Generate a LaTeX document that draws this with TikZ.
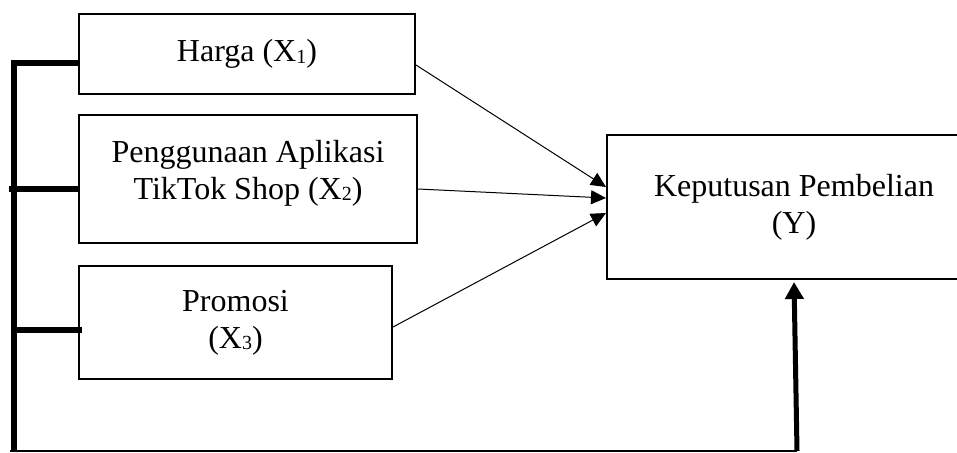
\documentclass[tikz,border=0pt]{standalone}
\usepackage{fontspec}
\setmainfont{Liberation Serif}
\usetikzlibrary{arrows.meta}
\newcommand\xsub[1]{\raisebox{-1.5pt}{\fontsize{20}{20}\selectfont #1}}
\tikzset{
  box/.style={draw, line width=2pt, rectangle, inner sep=0pt, align=center,
    font=\fontsize{32}{36.8}\selectfont},
  thin/.style={line width=1pt, -{Triangle[length=15pt,width=14pt]}},
  thick/.style={line width=6pt},
  bigarrow/.style={line width=5pt, -{Triangle[length=17pt,width=18pt]}},
}
\begin{document}
\begin{tikzpicture}[x=1pt, y=-1pt]
\useasboundingbox (0,0) rectangle (957,452);
\clip (0,0) rectangle (957,452);
\fill[white] (0,0) rectangle (957,452);

\node[box, minimum width=336pt, minimum height=80pt] (h) at (247,54) {Harga (X\xsub{1})};
\node[box, minimum width=338pt, minimum height=128pt] (p) at (248,179)
  {Penggunaan Aplikasi\\TikTok Shop (X\xsub{2})\rule[-19pt]{0pt}{0pt}};
\node[box, minimum width=313pt, minimum height=113pt] (r) at (235.5,322.5) {Promosi\\(X\xsub{3})};
\node[box, minimum width=374pt, minimum height=144pt] (k) at (794,207) {Keputusan Pembelian\\(Y)};

% thin arrows
\draw[thin] ([yshift=-11pt]h.east) -- ([yshift=20pt]k.west);
\draw[thin] ([yshift=-10pt]p.east) -- ([yshift=9pt]k.west);
\draw[thin] ([yshift=-4.5pt]r.east) -- ([yshift=-6pt]k.west);

% left bracket
\coordinate (top) at (13.5,60);
\coordinate (bl) at (13.5,451);
\coordinate (s1) at (12,63);
\coordinate (s2) at (9,189);
\coordinate (s3) at (13,330);
\coordinate (bstart) at (10,451);
\coordinate (bc) at (797,451);
\draw[thick] (top) -- (bl);
\draw[thick] (s1) -- ([yshift=-9pt]h.west);
\draw[thick] (s2) -- ([yshift=-10pt]p.west);
\draw[thick] (s3) -- ([xshift=4pt,yshift=-7.5pt]r.west);

% bottom line and arrow up
\draw[line width=2pt] (bstart) -- (bc);
\draw[bigarrow, shorten >=2pt] (bc) -- (k.south);
\end{tikzpicture}
\end{document}
